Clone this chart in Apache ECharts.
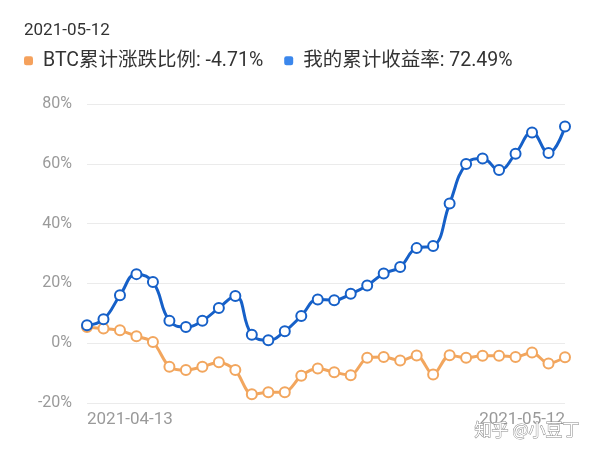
<!DOCTYPE html>
<html>
<head>
<meta charset="utf-8">
<script src="https://cdn.jsdelivr.net/npm/echarts@6/dist/echarts.min.js"></script>
<style>html,body{margin:0;padding:0;background:#fff;}#c{width:600px;height:452px;}</style>
</head>
<body>
<div id="c"></div>
<script>
const dates = ['2021-04-13','2021-04-14','2021-04-15','2021-04-16','2021-04-17','2021-04-18','2021-04-19','2021-04-20','2021-04-21','2021-04-22',
  '2021-04-23','2021-04-24','2021-04-25','2021-04-26','2021-04-27','2021-04-28','2021-04-29','2021-04-30','2021-05-01','2021-05-02',
  '2021-05-03','2021-05-04','2021-05-05','2021-05-06','2021-05-07','2021-05-08','2021-05-09','2021-05-10','2021-05-11','2021-05-12'];
const btcValues = [5.4, 4.9, 4.3, 2.3, 0.4, -7.9, -9.0, -7.9, -6.4, -9.0,
  -17.1, -16.4, -16.4, -10.9, -8.5, -9.7, -10.7, -4.9, -4.6, -5.8,
  -4.1, -10.5, -4.0, -4.9, -4.2, -4.2, -4.6, -3.1, -6.8, -4.71];
const myValues = [6.0, 8.0, 16.0, 23.1, 20.5, 7.5, 5.4, 7.5, 11.8, 15.8,
  2.8, 1.0, 4.0, 9.1, 14.6, 14.4, 16.5, 19.3, 23.3, 25.5,
  31.8, 32.5, 46.7, 59.9, 61.8, 57.9, 63.4, 70.5, 63.6, 72.49];
const yTicks = {min: -20, max: 80, interval: 20};
const seriesNames = ['BTC累计涨跌比例', '我的累计收益率'];
const headerDate = '2021-05-12';

const chart = echarts.init(document.getElementById('c'), null, {renderer: 'canvas'});
const lastVals = {};
lastVals[seriesNames[0]] = btcValues[btcValues.length - 1];
lastVals[seriesNames[1]] = myValues[myValues.length - 1];
const font = 'Roboto, "Noto Sans CJK SC", sans-serif';
chart.setOption({
  animation: false,
  backgroundColor: '#fff',
  title: {
    text: headerDate, left: 19, top: 17,
    textStyle: {fontSize: 17, fontWeight: 'normal', color: '#333', fontFamily: font}
  },
  legend: {
    left: 19, top: 46, itemWidth: 9, itemHeight: 9, itemGap: 21, icon: 'roundRect',
    data: [
      {name: seriesNames[0], itemStyle: {color: '#f5a15c', borderWidth: 0}},
      {name: seriesNames[1], itemStyle: {color: '#3b87ec', borderWidth: 0}}
    ],
    formatter: n => n + ': ' + lastVals[n] + '%',
    textStyle: {fontSize: 19.5, color: '#333', fontFamily: font, padding: [0, 0, 0, 5]}
  },
  grid: {left: 87, right: 35, top: 104, bottom: 49},
  xAxis: {
    type: 'category', data: dates, boundaryGap: false,
    axisLine: {show: false}, axisTick: {show: false},
    axisLabel: {
      interval: (i) => i === 0 || i === dates.length - 1,
      alignMinLabel: 'left', alignMaxLabel: 'right',
      color: '#9a9a9a', fontSize: 17, margin: 8, fontFamily: font
    }
  },
  yAxis: {
    type: 'value', min: yTicks.min, max: yTicks.max, interval: yTicks.interval,
    axisLine: {show: false}, axisTick: {show: false},
    splitLine: {lineStyle: {color: '#ebebeb', width: 1}},
    axisLabel: {formatter: '{value}%', color: '#9a9a9a', fontSize: 16, margin: 15, fontFamily: font}
  },
  series: [
    {
      name: seriesNames[0], type: 'line', data: btcValues, smooth: 0.3,
      symbol: 'circle', symbolSize: 10, showAllSymbol: true,
      lineStyle: {color: '#f2a65e', width: 3},
      itemStyle: {color: '#fff', borderColor: '#f2a65e', borderWidth: 2}
    },
    {
      name: seriesNames[1], type: 'line', data: myValues, smooth: 0.45,
      symbol: 'circle', symbolSize: 10, showAllSymbol: true,
      lineStyle: {color: '#1660c8', width: 3},
      itemStyle: {color: '#fff', borderColor: '#1660c8', borderWidth: 2}
    }
  ],
  graphic: [{
    type: 'text', right: 20, bottom: 13, z: 100,
    style: {text: '知乎 @小豆丁', fontSize: 17, fontFamily: '"Noto Sans CJK SC", sans-serif',
      fill: '#ffffff', stroke: '#8a8a8a', lineWidth: 1}
  }]
});
</script>
</body>
</html>
